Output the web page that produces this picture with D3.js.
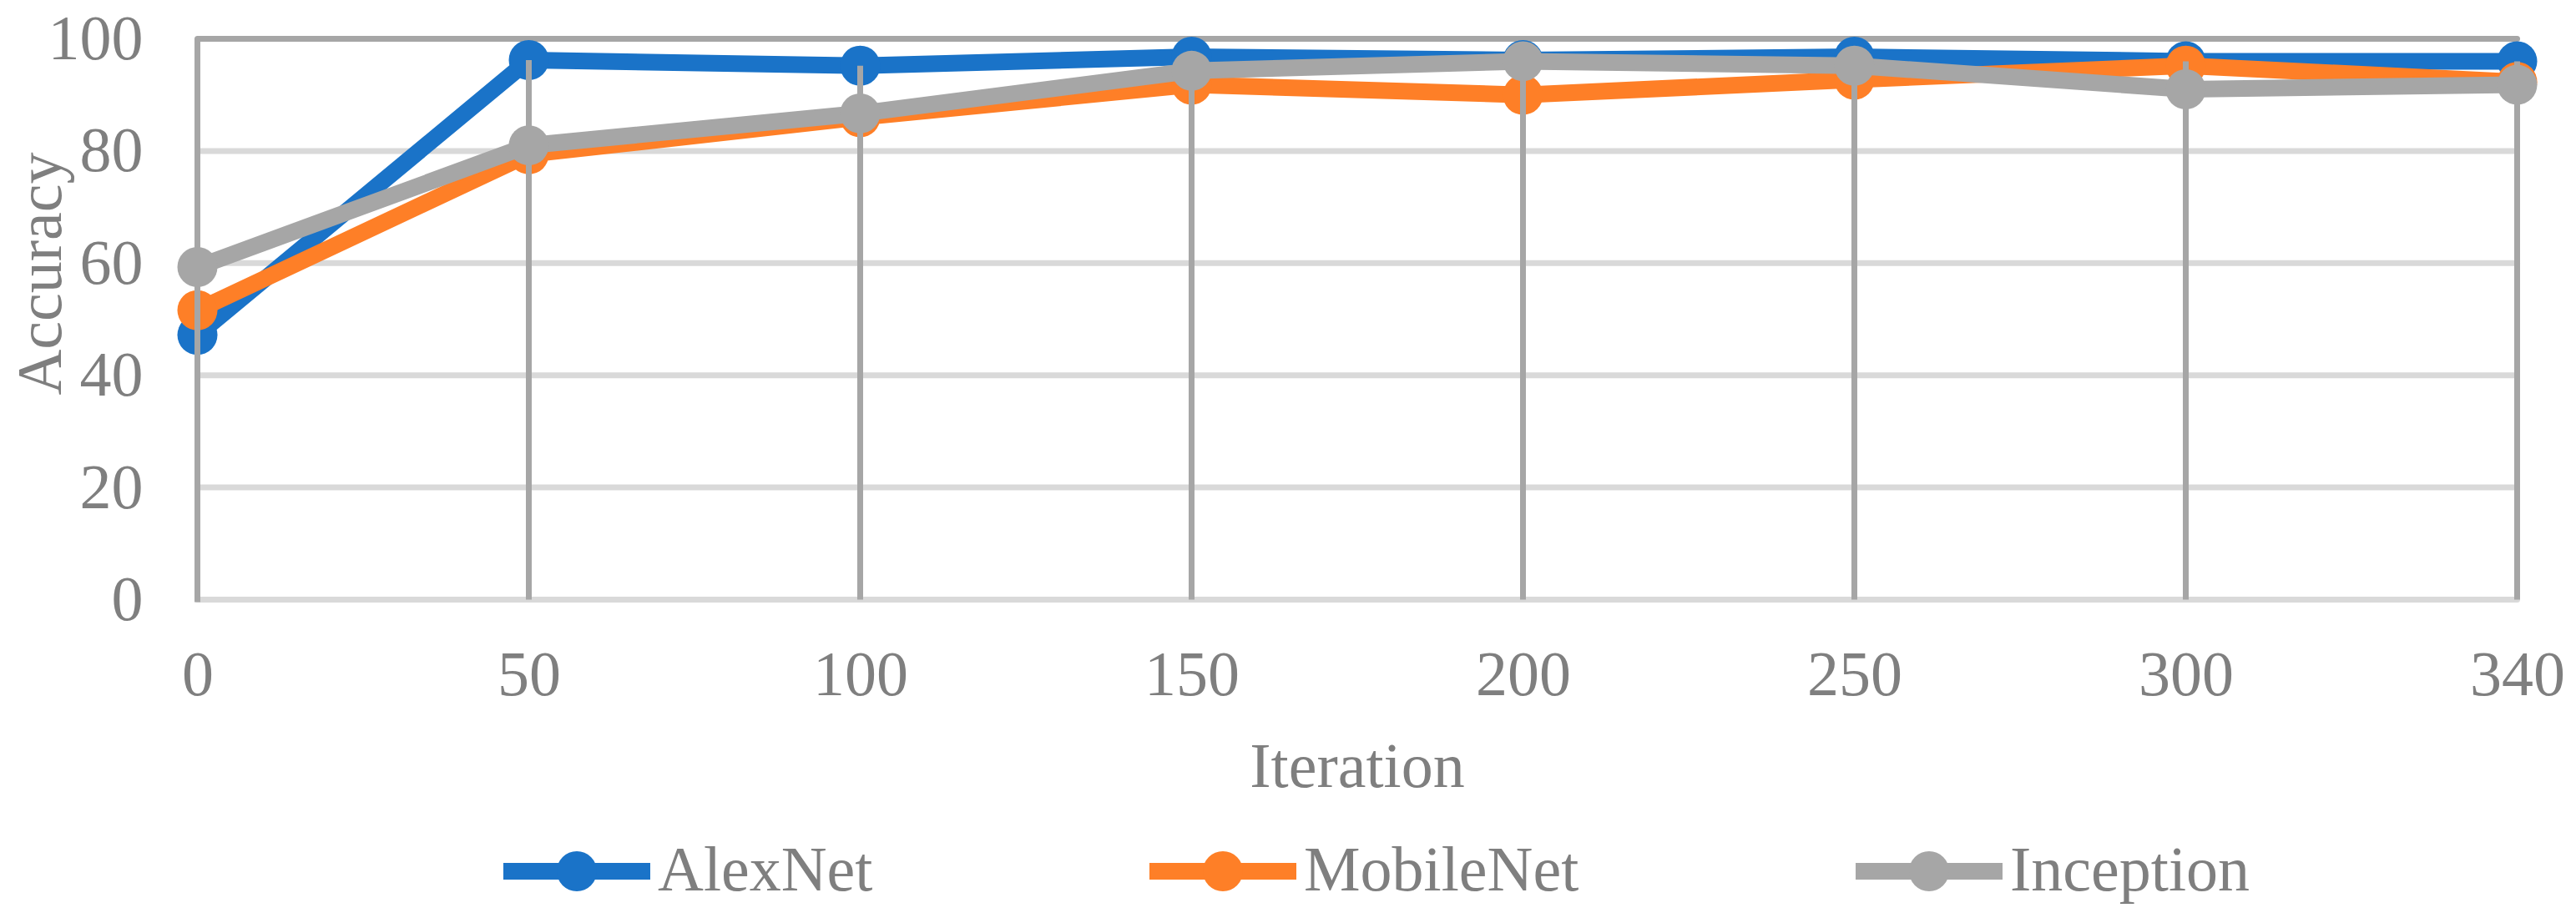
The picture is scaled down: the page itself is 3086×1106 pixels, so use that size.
<!DOCTYPE html>
<html>
<head>
<meta charset="utf-8">
<script src="https://cdn.jsdelivr.net/npm/d3@7"></script>
<style>
  body { margin: 0; background: #fff; }
  text { font-family: "Liberation Serif", "Times New Roman", serif; fill: #7f7f7f; }
</style>
</head>
<body>
<div id="chart"></div>
<script>
// data
var iterations = ["0", "50", "100", "150", "200", "250", "300", "340"];
var alexnet   = [47.2, 96.2, 95.2, 96.8, 96.2, 96.8, 96.0, 96.0];
var mobilenet = [51.6, 79.4, 86.0, 91.8, 90.0, 92.7, 95.2, 92.3];
var inception = [59.3, 81.0, 86.7, 94.3, 96.0, 95.2, 91.0, 91.8];
var yTicks = [0, 20, 40, 60, 80, 100];

var seriesNames = ["AlexNet", "MobileNet", "Inception"];
var seriesColors = ["#1a73c8", "#fe7f27", "#a6a6a6"];

var W = 3086, H = 1106;
var margin = {top: 46.5, right: 70.5, bottom: 387.5, left: 236.5},
    width = W - margin.left - margin.right,
    height = H - margin.top - margin.bottom;

var svg = d3.select("#chart")
    .append("svg")
    .attr("width", W)
    .attr("height", H);

var g = svg.append("g")
    .attr("transform", "translate(" + margin.left + "," + margin.top + ")");

var x = d3.scalePoint().domain(iterations).range([0, width]).padding(0);
var y = d3.scaleLinear().domain([0, 100]).range([height, 0]);

// horizontal gridlines (100 line is darker)
g.append("g")
    .selectAll("line")
    .data(yTicks)
    .enter()
    .append("line")
    .attr("x1", 0)
    .attr("x2", width)
    .attr("y1", function(d) { return y(d); })
    .attr("y2", function(d) { return y(d); })
    .attr("stroke", function(d) { return d === 100 ? "#a6a6a6" : "#d9d9d9"; })
    .attr("stroke-width", 7)
    .attr("stroke-linecap", "round");

// value axis line
g.append("line")
    .attr("x1", 0).attr("x2", 0)
    .attr("y1", y(100)).attr("y2", y(0) + 3)
    .attr("stroke", "#a6a6a6")
    .attr("stroke-width", 7);

// y tick labels
var yAxis = g.append("g")
    .call(d3.axisLeft(y).tickValues(yTicks).tickSize(0).tickPadding(65));
yAxis.select(".domain").remove();
yAxis.selectAll("text")
    .attr("font-size", 76)
    .attr("dy", 24)
    .style("fill", "#7f7f7f")
    .style("font-family", "'Liberation Serif', 'Times New Roman', serif");

// x tick labels
var xAxis = g.append("g")
    .attr("transform", "translate(0," + height + ")")
    .call(d3.axisBottom(x).tickSize(0).tickPadding(0));
xAxis.select(".domain").remove();
xAxis.selectAll("text")
    .attr("font-size", 76)
    .attr("y", 0)
    .attr("dy", 114)
    .style("fill", "#7f7f7f")
    .style("font-family", "'Liberation Serif', 'Times New Roman', serif");

var line = d3.line()
    .x(function(d, i) { return x(iterations[i]); })
    .y(function(d) { return y(d); });

function drawSeries(values, color) {
    g.append("path")
        .datum(values)
        .attr("d", line)
        .attr("fill", "none")
        .attr("stroke", color)
        .attr("stroke-width", 20)
        .attr("stroke-linejoin", "round");
    g.append("g")
        .selectAll("circle")
        .data(values)
        .enter()
        .append("circle")
        .attr("cx", function(d, i) { return x(iterations[i]); })
        .attr("cy", function(d) { return y(d); })
        .attr("r", 24)
        .attr("fill", color);
}

drawSeries(alexnet, seriesColors[0]);
drawSeries(mobilenet, seriesColors[1]);

// drop lines from the highest point down to the axis
g.append("g")
    .selectAll("line")
    .data(iterations)
    .enter()
    .append("line")
    .attr("x1", function(d) { return x(d); })
    .attr("x2", function(d) { return x(d); })
    .attr("y1", function(d, i) { return y(Math.max(alexnet[i], mobilenet[i], inception[i])); })
    .attr("y2", y(0))
    .attr("stroke", "#a6a6a6")
    .attr("stroke-width", 7);

drawSeries(inception, seriesColors[2]);

// axis titles
svg.append("text")
    .attr("transform", "translate(73,328) rotate(-90)")
    .attr("text-anchor", "middle")
    .attr("font-size", 76)
    .text("Accuracy");

svg.append("text")
    .attr("x", margin.left + width / 2)
    .attr("y", 943)
    .attr("text-anchor", "middle")
    .attr("font-size", 76)
    .text("Iteration");

// legend
var legendX = [603, 1377, 2223];
var legend = svg.append("g")
    .selectAll("g")
    .data(seriesNames)
    .enter()
    .append("g")
    .attr("transform", function(d, i) { return "translate(" + legendX[i] + ",1044)"; });

legend.append("line")
    .attr("x1", 0).attr("x2", 176)
    .attr("y1", 0).attr("y2", 0)
    .attr("stroke", function(d, i) { return seriesColors[i]; })
    .attr("stroke-width", 20);

legend.append("circle")
    .attr("cx", 88)
    .attr("cy", 0)
    .attr("r", 24)
    .attr("fill", function(d, i) { return seriesColors[i]; });

legend.append("text")
    .attr("x", 185)
    .attr("y", 23)
    .attr("font-size", 76)
    .text(function(d) { return d; });
</script>
</body>
</html>
